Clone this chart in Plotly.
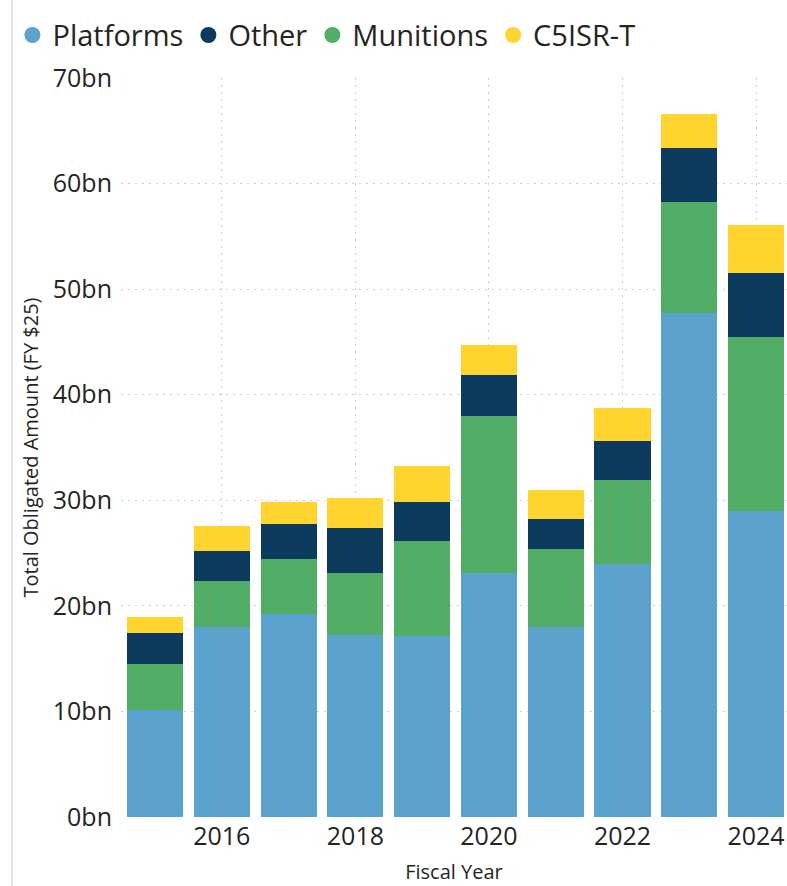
import plotly.graph_objects as go

years = [2015, 2016, 2017, 2018, 2019, 2020, 2021, 2022, 2023, 2024]
platforms = [10.1, 18.0, 19.25, 17.2, 17.1, 23.1, 18.0, 24.0, 47.7, 29.0]
munitions = [4.35, 4.35, 5.2, 5.95, 9.0, 14.9, 7.4, 7.9, 10.6, 16.45]
other = [3.0, 2.85, 3.3, 4.2, 3.7, 3.9, 2.8, 3.75, 5.1, 6.1]
c5isr = [1.5, 2.4, 2.1, 2.9, 3.45, 2.8, 2.75, 3.1, 3.2, 4.5]

series = [
    ("Platforms", platforms, "#5BA2CD", 1),
    ("Munitions", munitions, "#52AD66", 3),
    ("Other", other, "#0D3B5E", 2),
    ("C5ISR-T", c5isr, "#FFD42F", 4),
]

FONT = "Segoe UI, Open Sans, sans-serif"
TXT = "#252423"
GRID = "#CFCFCF"

fig = go.Figure()
for name, vals, color, rank in series:
    fig.add_trace(go.Bar(
        x=years, y=vals, name=name, showlegend=False,
        marker=dict(color=color, line=dict(width=0)),
    ))
# legend entries with circular markers
for name, vals, color, rank in series:
    fig.add_trace(go.Scatter(
        x=[None], y=[None], mode="markers", name=name, legendrank=rank,
        marker=dict(color=color, size=16, symbol="circle"),
    ))

fig.update_layout(
    width=787, height=886,
    barmode="stack", bargap=0.16,
    plot_bgcolor="white", paper_bgcolor="white",
    margin=dict(l=121, r=0, t=78, b=69, autoexpand=False),
    font=dict(family=FONT, color=TXT),
    legend=dict(
        orientation="h", x=-0.163, y=1.058, xanchor="left", yanchor="middle",
        font=dict(size=29, color=TXT), itemsizing="trace",
        traceorder="normal", itemwidth=30, bgcolor="rgba(0,0,0,0)",
    ),
    xaxis=dict(
        range=[2014.49, 2024.464], tick0=2016, dtick=2,
        showgrid=True, gridcolor=GRID, griddash="2px,5px", gridwidth=1,
        showline=False, zeroline=False, ticks="",
        tickfont=dict(size=25, color=TXT), ticklabelstandoff=2,
        title=dict(text="Fiscal Year", font=dict(size=20, color=TXT), standoff=13),
    ),
    yaxis=dict(
        range=[0, 70], dtick=10, ticksuffix="bn",
        showgrid=True, gridcolor=GRID, griddash="2px,5px", gridwidth=1,
        showline=False, zeroline=False, ticks="",
        tickfont=dict(size=25, color=TXT), ticklabelstandoff=8,
        title=dict(text="Total Obligated Amount (FY $25)", font=dict(size=20, color=TXT), standoff=8),
    ),
    shapes=[dict(type="line", xref="paper", yref="paper", layer="below",
                 x0=-0.1637, x1=-0.1637, y0=-0.2, y1=1.2,
                 line=dict(color="#E6E6E6", width=2))],
)

fig.write_html("out.html")
